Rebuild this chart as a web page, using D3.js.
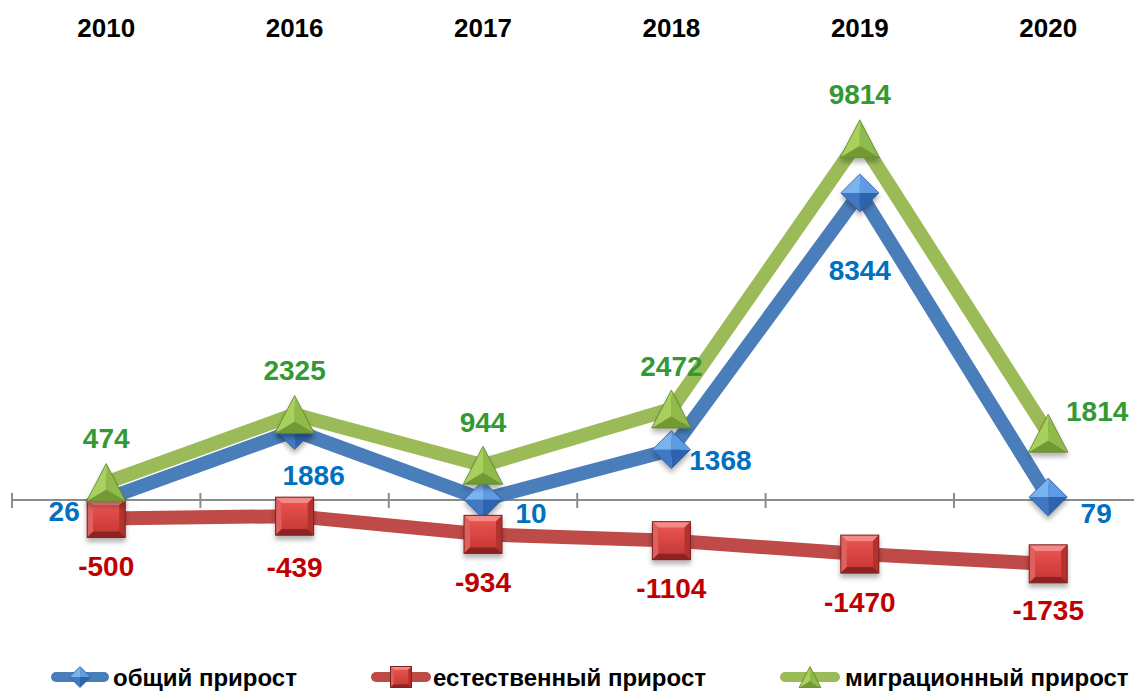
<!DOCTYPE html>
<html>
<head>
<meta charset="utf-8">
<script src="https://cdn.jsdelivr.net/npm/d3@7/dist/d3.min.js"></script>
<style>
  html, body { margin: 0; padding: 0; background: #fff; }
  svg { display: block; }
</style>
</head>
<body>
<svg id="chart" width="1134" height="695"></svg>
<script>
// ---------- data ----------
const years = ["2010", "2016", "2017", "2018", "2019", "2020"];
const totalGrowth = [26, 1886, 10, 1368, 8344, 79];
const naturalGrowth = [-500, -439, -934, -1104, -1470, -1735];
const migrationGrowth = [474, 2325, 944, 2472, 9814, 1814];
const seriesNames = ["общий прирост", "естественный прирост", "миграционный прирост"];

// ---------- layout (label offsets from marker centre) ----------
const totalLabelOffsets = [[-42, 12], [19, 44], [48, 13], [49, 10], [0, 77], [48, 16]];
const naturalLabelOffsets = [[0, 48], [0, 51], [0, 48], [0, 47], [0, 48], [0, 46]];
const migrationLabelOffsets = [[0, -45], [0, -44], [0, -43], [0, -43], [0, -45], [49, -22]];

const W = 1134, H = 695;
const svg = d3.select("#chart");

// font detection: narrow bold
function textWidth(family, txt, size) {
  const t = svg.append("text").attr("font-family", family).attr("font-weight", "bold")
    .attr("font-size", size).text(txt);
  const w = t.node().getComputedTextLength();
  t.remove();
  return w;
}
const wNarrow = textWidth("'Liberation Sans Narrow'", "0123456789", 100);
const wRegular = textWidth("'Liberation Sans'", "0123456789", 100);
const hasNarrow = Math.abs(wNarrow - wRegular) > 1;
const NARROW = hasNarrow ? "'Liberation Sans Narrow', 'Arial Narrow', sans-serif" : "'Liberation Sans', Arial, sans-serif";
const narrowScale = hasNarrow ? 1 : 0.82;
const WIDE = "'Liberation Sans', Arial, sans-serif";

// ---------- scales ----------
const x = d3.scaleBand().domain(years).range([12, 1142.4]).padding(0);
const y = d3.scaleLinear().domain([-2000, 10000]).range([573.6, 132]);
const cx = d => x(d) + x.bandwidth() / 2;

// ---------- defs ----------
const defs = svg.append("defs");
const f = defs.append("filter").attr("id", "shadow").attr("x", "-50%").attr("y", "-50%")
  .attr("width", "200%").attr("height", "200%");
f.append("feDropShadow").attr("dx", 0).attr("dy", 4).attr("stdDeviation", 2.5)
  .attr("flood-color", "#000").attr("flood-opacity", 0.3);

// ---------- axis ----------
const axisG = svg.append("g").attr("transform", `translate(0,${y(0)})`);
const axis = d3.axisBottom(x).tickSize(0).tickFormat("");
axisG.call(axis);
axisG.select(".domain").remove();
axisG.append("line").attr("x1", 12).attr("x2", W).attr("y1", 0).attr("y2", 0)
  .attr("stroke", "#8c8c8c").attr("stroke-width", 2);
const boundaries = years.map(d => x(d)).concat([x(years[years.length - 1]) + x.bandwidth()]);
axisG.selectAll("line.tk").data(boundaries).join("line").attr("class", "tk")
  .attr("x1", d => d).attr("x2", d => d).attr("y1", -7).attr("y2", 8)
  .attr("stroke", "#8c8c8c").attr("stroke-width", 2);

// year labels on top
const yearAxis = d3.axisTop(x).tickSize(0);
const yearG = svg.append("g").attr("transform", "translate(0,37)").call(yearAxis);
yearG.select(".domain").remove();
yearG.selectAll("text")
  .attr("font-family", NARROW).attr("font-weight", "bold").attr("font-size", 26)
  .attr("fill", "#000").attr("y", 0).attr("dy", 0)
  .attr("transform", function () { return narrowScale === 1 ? null : null; });
if (narrowScale !== 1) {
  yearG.selectAll(".tick text").attr("textLength", 48).attr("lengthAdjust", "spacingAndGlyphs");
}

// ---------- marker drawing ----------
function drawSquare(g, s, col) {
  const h = s / 2, b = s * 0.16;
  g.append("rect").attr("x", -h).attr("y", -h).attr("width", s).attr("height", s).attr("fill", col.mid);
  g.append("polygon").attr("points", [[-h, -h], [h, -h], [h - b, -h + b], [-h + b, -h + b]].join(" ")).attr("fill", col.top);
  g.append("polygon").attr("points", [[-h, -h], [-h + b, -h + b], [-h + b, h - b], [-h, h]].join(" ")).attr("fill", col.left);
  g.append("polygon").attr("points", [[h, -h], [h, h], [h - b, h - b], [h - b, -h + b]].join(" ")).attr("fill", col.right);
  g.append("polygon").attr("points", [[-h, h], [h, h], [h - b, h - b], [-h + b, h - b]].join(" ")).attr("fill", col.bottom);
  g.append("rect").attr("x", -h + b).attr("y", -h + b).attr("width", s - 2 * b).attr("height", s - 2 * b).attr("fill", "url(#gradSq)");
  g.append("rect").attr("x", -h).attr("y", -h).attr("width", s).attr("height", s).attr("fill", "none")
    .attr("stroke", col.edge).attr("stroke-width", 1);
}
function drawDiamond(g, s, col) {
  const h = s / 2;
  const c = [0, 0];
  g.append("polygon").attr("points", [[-h, 0], [0, -h], c].join(" ")).attr("fill", col.tl);
  g.append("polygon").attr("points", [[0, -h], [h, 0], c].join(" ")).attr("fill", col.tr);
  g.append("polygon").attr("points", [[-h, 0], [0, h], c].join(" ")).attr("fill", col.bl);
  g.append("polygon").attr("points", [[0, h], [h, 0], c].join(" ")).attr("fill", col.br);
  g.append("polygon").attr("points", [[-h, 0], [0, -h], [h, 0], [0, h]].join(" ")).attr("fill", "none")
    .attr("stroke", col.edge).attr("stroke-width", 0.8);
}
function drawTriangle(g, s, col) {
  const h = s / 2, w = s * 1.04 / 2;
  const c = [0, h * 0.38];
  const top = [0, -h], bl = [-w, h], br = [w, h];
  g.append("polygon").attr("points", [top, bl, c].join(" ")).attr("fill", col.left);
  g.append("polygon").attr("points", [top, br, c].join(" ")).attr("fill", col.right);
  g.append("polygon").attr("points", [bl, br, c].join(" ")).attr("fill", col.bottom);
  g.append("polygon").attr("points", [top, bl, br].join(" ")).attr("fill", "none")
    .attr("stroke", col.edge).attr("stroke-width", 0.8);
}

const gradSq = defs.append("linearGradient").attr("id", "gradSq").attr("x1", 0).attr("y1", 0).attr("x2", 0).attr("y2", 1);
gradSq.append("stop").attr("offset", "0%").attr("stop-color", "#e8524f");
gradSq.append("stop").attr("offset", "100%").attr("stop-color", "#c93a37");

const blueCol = { tl: "#7ab4f0", tr: "#5e9be2", bl: "#3f78c4", br: "#2f63ad", edge: "#2d5a94" };
const redCol = { mid: "#d6403d", top: "#f48a88", left: "#e0605d", right: "#b4302e", bottom: "#8e2422", edge: "#7a2321" };
const greenCol = { left: "#a9d05c", right: "#90ba48", bottom: "#719a33", edge: "#5e7f2c" };

const series = [
  { name: seriesNames[0], values: totalGrowth, line: "#4a7ebb", label: "#0070c0", marker: drawDiamond, col: blueCol, offs: totalLabelOffsets },
  { name: seriesNames[1], values: naturalGrowth, line: "#be4b48", label: "#c00000", marker: drawSquare, col: redCol, offs: naturalLabelOffsets },
  { name: seriesNames[2], values: migrationGrowth, line: "#9bbb59", label: "#339933", marker: drawTriangle, col: greenCol, offs: migrationLabelOffsets }
];

const lineGen = d3.line().x((d, i) => cx(years[i])).y(d => y(d));
const MS = 38;

series.forEach(s => {
  const g = svg.append("g");
  g.append("path").attr("d", lineGen(s.values)).attr("fill", "none")
    .attr("stroke", s.line).attr("stroke-width", 14).attr("stroke-linejoin", "round");
  s.values.forEach((v, i) => {
    const mg = g.append("g").attr("transform", `translate(${cx(years[i])},${y(v)})`).attr("filter", "url(#shadow)");
    s.marker(mg, MS, s.col);
  });
});

// data labels
const LFS = 28;
series.forEach(s => {
  svg.append("g").selectAll("text").data(s.values).join("text")
    .attr("x", (d, i) => cx(years[i]) + s.offs[i][0])
    .attr("y", (d, i) => y(d) + s.offs[i][1] + LFS * 0.716 / 2)
    .attr("text-anchor", "middle")
    .attr("font-family", NARROW).attr("font-weight", "bold").attr("font-size", LFS)
    .attr("fill", s.label)
    .attr("transform", (d, i) => narrowScale === 1 ? null :
      `translate(${(cx(years[i]) + s.offs[i][0]) * (1 - narrowScale)},0) scale(${narrowScale},1)`)
    .text(d => d);
});

// ---------- legend ----------
const legendItems = [
  { s: series[0], x0: 51, x1: 109, tx: 113 },
  { s: series[1], x0: 371, x1: 431, tx: 433 },
  { s: series[2], x0: 780, x1: 840, tx: 845 }
];
const LY = 677;
legendItems.forEach(it => {
  const g = svg.append("g");
  g.append("line").attr("x1", it.x0 + 5).attr("x2", it.x1 - 5).attr("y1", LY).attr("y2", LY)
    .attr("stroke", it.s.line).attr("stroke-width", 10).attr("stroke-linecap", "round");
  const mg = g.append("g").attr("transform", `translate(${(it.x0 + it.x1) / 2},${LY})`);
  it.s.marker(mg, 21, it.s.col);
  g.append("text").attr("x", it.tx).attr("y", 686)
    .attr("font-family", WIDE).attr("font-weight", "bold").attr("font-size", 24)
    .attr("fill", "#000").text(it.s.name);
});
</script>
</body>
</html>
